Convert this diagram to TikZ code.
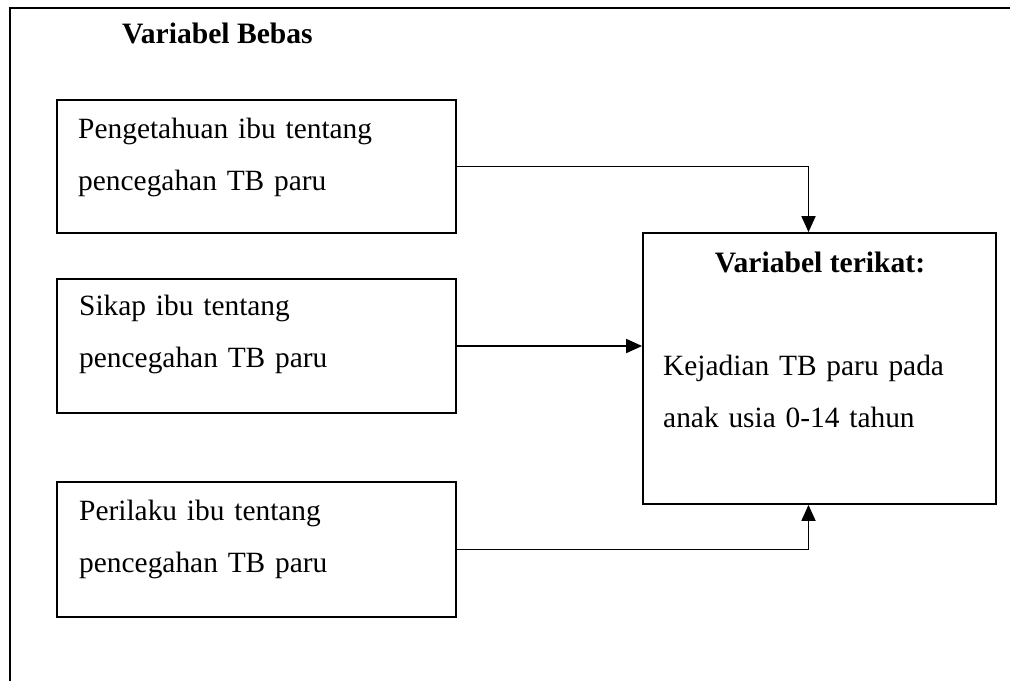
\documentclass[tikz,border=0pt]{standalone}
\usepackage{fontspec}
\setmainfont{Liberation Serif}
\usetikzlibrary{calc,arrows.meta}

\tikzset{
	kotak/.style={draw, line width=1.8pt, minimum width=399pt, inner sep=0pt},
	teks/.style={anchor=base west, inner sep=0pt, text width=360pt, align=left, font=\fontsize{29.4}{52}\selectfont},
	judul/.style={inner sep=0pt, font=\fontsize{29.6}{36}\selectfont\bfseries},
	panah/.style={line width=1.8pt, -{Triangle[length=16pt,width=14pt]}},
}

\begin{document}
\begin{tikzpicture}[x=1pt, y=-1pt]
		%%%%% START %%%%%
		\useasboundingbox (0,0) rectangle (1010,681);
		
		\draw[line width=1.8pt] (10,681) -- (10,8) -- (1010,8);
		\node[judul, anchor=base west] (bebas) at (122,43) {Variabel Bebas};
		
		\node[kotak, minimum height=133pt] (peng) at (256.5,166.5) {};
		\node[kotak, minimum height=134pt] (sikap) at (256.5,346) {};
		\node[kotak, minimum height=135pt] (perilaku) at (256.5,549.5) {};
		\node[kotak, minimum width=353pt, minimum height=271pt] (kejadian) at (819.5,368.5) {};
		
		\node[teks] (tpeng) at (78,138) {Pengetahuan ibu tentang\\pencegahan TB paru};
		\node[teks] (tsikap) at (79,315) {Sikap ibu tentang\\pencegahan TB paru};
		\node[teks] (tperilaku) at (79,520) {Perilaku ibu tentang\\pencegahan TB paru};
		
		\node[judul, anchor=base] (terikat) at (820,272) {Variabel terikat:};
		\node[teks] (tkejadian) at (663,375) {Kejadian TB paru pada\\anak usia 0-14 tahun};
		
		\draw[panah] (peng.east) -| ($(kejadian.north)+(-11,0)$);
		\draw[panah] (sikap.east) -- (sikap.east -| kejadian.west);
		\draw[panah] (perilaku.east) -| ($(kejadian.south)+(-11,0)$);
		
		%%%%% END %%%%%
\end{tikzpicture}
\end{document}
